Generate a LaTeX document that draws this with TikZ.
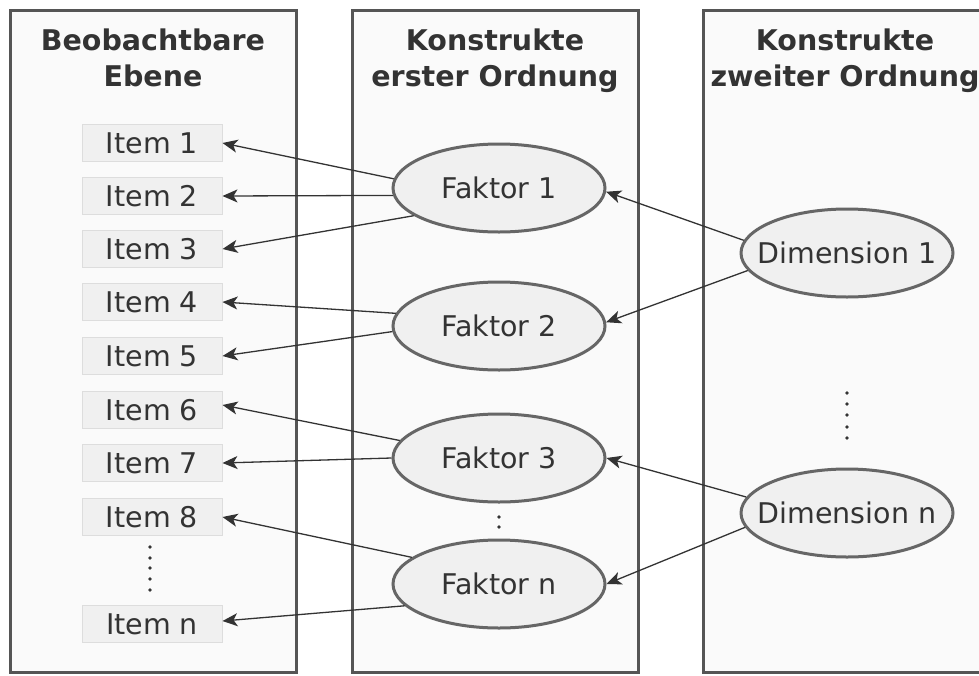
\documentclass[tikz,border=0pt]{standalone}
\usepackage{fontspec}
\setmainfont{DejaVu Sans}
\usetikzlibrary{arrows.meta,shapes.geometric}
\definecolor{panelfill}{HTML}{FAFAFA}
\definecolor{panelline}{HTML}{555555}
\definecolor{boxfill}{HTML}{F0F0F0}
\definecolor{boxline}{HTML}{DDDDDD}
\definecolor{ovalline}{HTML}{666666}
\definecolor{ink}{HTML}{333333}
\tikzset{
  panel/.style={draw=panelline, fill=panelfill, line width=3pt},
  coltitle/.style={font=\fontsize{28.5}{34}\selectfont\bfseries, text=ink, anchor=base, inner sep=0pt},
  itembox/.style={draw=boxline, fill=boxfill, line width=1pt, minimum width=140pt,
    minimum height=37pt, inner sep=0pt, font=\fontsize{28.5}{34}\selectfont, text=ink},
  construct/.style={ellipse, draw=ovalline, fill=boxfill, line width=3pt, minimum width=212pt,
    minimum height=88pt, inner xsep=-25pt, inner ysep=-10pt, font=\fontsize{28.5}{34}\selectfont, text=ink},
  edge/.style={draw=ink, line width=1.3pt, -{Stealth[length=15pt, width=13pt, inset=4pt]}},
  dotmark/.style={fill=ink, draw=none}
}
\begin{document}
\begin{tikzpicture}[x=1pt, y=-1pt]
  \useasboundingbox (0,0) rectangle (979,675);
  \clip (0,0) rectangle (979,675);
  \fill[white] (0,0) rectangle (979,675);

  % the three columns
  \draw[panel] (10,10) rectangle (296,672);
  \draw[panel] (352,10) rectangle (638,672);
  \draw[panel] (703,10) rectangle (989,672);

  % column headings
  \node[coltitle] (h1a) at (153,50) {Beobachtbare};
  \node[coltitle] (h1b) at (153,86) {Ebene};
  \node[coltitle] (h2a) at (495,50) {Konstrukte};
  \node[coltitle] (h2b) at (495,86) {erster Ordnung};
  \node[coltitle] (h3a) at (845,50) {Konstrukte};
  \node[coltitle] (h3b) at (845,86) {zweiter Ordnung};

  % observable items
  \node[itembox] (i1) at (152,143) {Item 1};
  \node[itembox] (i2) at (152,196) {Item 2};
  \node[itembox] (i3) at (152,249) {Item 3};
  \node[itembox] (i4) at (152,302) {Item 4};
  \node[itembox] (i5) at (152,356) {Item 5};
  \node[itembox] (i6) at (152,410) {Item 6};
  \node[itembox] (i7) at (152,463) {Item 7};
  \node[itembox] (i8) at (152,517) {Item 8};
  \node[itembox] (in) at (152,624) {Item n};
  \foreach \yy in {547,558,568,579,590}
    \fill[dotmark] (150,\yy) circle (1.8pt);

  % first-order constructs
  \node[construct] (f1) at (499,188) {Faktor 1};
  \node[construct] (f2) at (499,326) {Faktor 2};
  \node[construct] (f3) at (499,458) {Faktor 3};
  \node[construct] (fn) at (499,584) {Faktor n};
  \foreach \yy in {517,527}
    \fill[dotmark] (499,\yy) circle (1.8pt);

  % second-order constructs
  \node[construct] (d1) at (847,253) {Dimension 1};
  \node[construct] (dn) at (847,513) {Dimension n};
  \foreach \yy in {393,404,415,427,438}
    \fill[dotmark] (847,\yy) circle (1.8pt);

  % loadings of the items
  \draw[edge] (f1.175) -- (i1.east);
  \draw[edge] (f1.184) -- (i2.east);
  \draw[edge] (f1.198) -- (i3.east);
  \draw[edge] (f2.173) -- (i4.east);
  \draw[edge] (f2.183) -- (i5.east);
  \draw[edge] (f3.170) -- ([yshift=5pt]i6.east);
  \draw[edge] (f3.180) -- (i7.east);
  \draw[edge] (fn.163) -- (i8.east);
  \draw[edge] (fn.193) -- ([yshift=3pt]in.east);

  % loadings of the first-order constructs
  \draw[edge] (d1.173) -- (f1.358);
  \draw[edge] (d1.190) -- (f2.2);
  \draw[edge] (dn.171) -- (f3.east);
  \draw[edge] (dn.188) -- (fn.east);
\end{tikzpicture}
\end{document}
